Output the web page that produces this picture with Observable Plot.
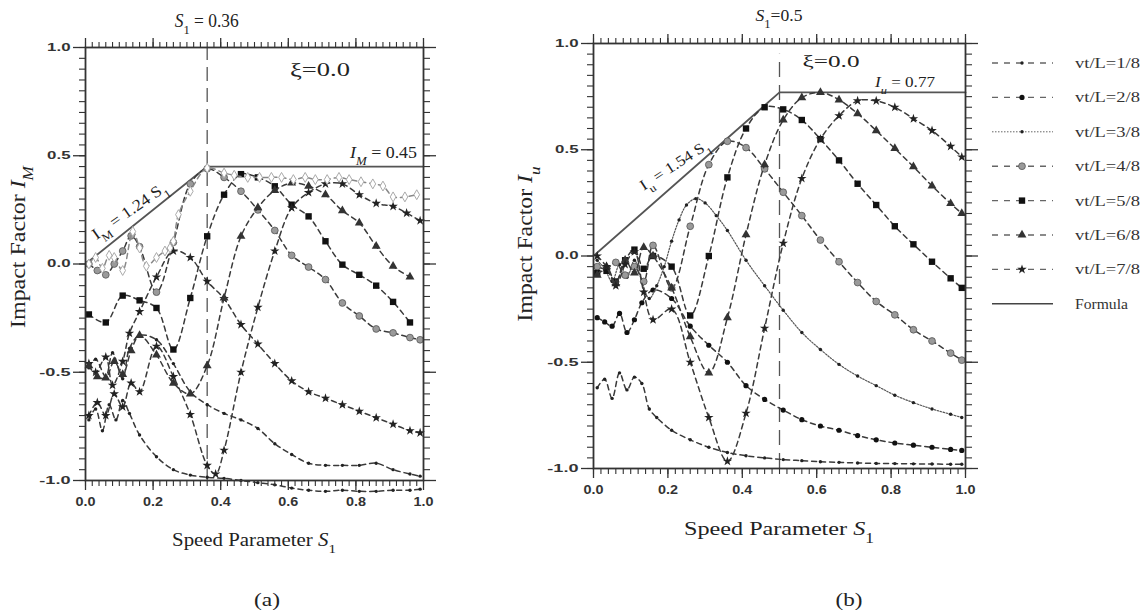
<!DOCTYPE html>
<html><head><meta charset="utf-8">
<script src="https://cdn.jsdelivr.net/npm/d3@7"></script>
<script src="https://cdn.jsdelivr.net/npm/@observablehq/plot@0.6"></script>
<style>
body{margin:0;background:#fff;}
#root{position:relative;width:1146px;height:616px;overflow:hidden;background:#fff;}
</style></head><body><div id="root"></div>
<script>
// ---------- tick values ----------
const xMajor = [0, 0.2, 0.4, 0.6, 0.8, 1.0];
const xMinor = d3.range(0, 51).map(d => d / 50);
const yMajor = [-1, -0.5, 0, 0.5, 1];
const yMinor = d3.range(-20, 21).map(d => d / 20);

// ---------- panel (a): I_M ----------
const aFormulaS = [0, 0.36, 1];
const aFormulaI = [0, 0.45, 0.45];
const aS1 = [0.01,0.03,0.05,0.07,0.09,0.11,0.13,0.16,0.21,0.26,0.31,0.36,0.41,0.46,0.51,0.56,0.61,0.66,0.71,0.76,0.81,0.86,0.91,0.96,0.99];
const aI1 = [-0.72,-0.67,-0.77,-0.65,-0.72,-0.63,-0.69,-0.79,-0.89,-0.95,-0.975,-0.985,-0.99,-1.0,-1.01,-1.02,-1.035,-1.045,-1.05,-1.045,-1.05,-1.05,-1.045,-1.045,-1.04];
const aS2 = [0.01,0.03,0.06,0.08,0.11,0.13,0.16,0.21,0.26,0.31,0.36,0.41,0.46,0.51,0.56,0.61,0.66,0.71,0.76,0.81,0.86,0.91,0.96,0.99];
const aI2 = [-0.48,-0.44,-0.52,-0.41,-0.53,-0.39,-0.33,-0.35,-0.46,-0.59,-0.65,-0.69,-0.72,-0.76,-0.83,-0.88,-0.92,-0.93,-0.93,-0.93,-0.92,-0.95,-0.97,-0.98];
const aS3 = [0.01,0.03,0.06,0.08,0.11,0.13,0.16,0.21,0.26,0.31,0.36,0.41,0.46,0.51,0.56,0.61,0.66,0.71,0.76,0.81,0.86,0.91,0.96,0.99];
const aI3 = [-0.46,-0.5,-0.43,-0.56,-0.45,-0.32,-0.22,-0.06,0.06,0.03,-0.08,-0.16,-0.28,-0.37,-0.46,-0.54,-0.59,-0.62,-0.65,-0.68,-0.71,-0.74,-0.77,-0.78];
const aS4 = [0.01,0.035,0.06,0.085,0.11,0.135,0.16,0.21,0.26,0.31,0.36,0.41,0.46,0.51,0.56,0.61,0.66,0.71,0.76,0.81,0.86,0.91,0.96,0.99];
const aI4 = [0.0,-0.03,-0.05,0.0,0.06,0.13,0.08,-0.13,0.10,0.37,0.44,0.40,0.336,0.25,0.155,0.04,-0.014,-0.072,-0.18,-0.24,-0.30,-0.318,-0.34,-0.35];
const aS5 = [0.01,0.06,0.11,0.16,0.21,0.26,0.31,0.36,0.41,0.46,0.51,0.56,0.61,0.66,0.71,0.76,0.81,0.86,0.91,0.96];
const aI5 = [-0.233,-0.27,-0.146,-0.168,-0.203,-0.395,-0.157,0.128,0.32,0.415,0.40,0.359,0.274,0.22,0.105,-0.003,-0.05,-0.10,-0.175,-0.27];
const aS6 = [0.01,0.035,0.06,0.085,0.11,0.135,0.16,0.21,0.26,0.31,0.36,0.41,0.46,0.51,0.56,0.61,0.66,0.71,0.76,0.81,0.86,0.91,0.96];
const aI6 = [-0.47,-0.52,-0.526,-0.45,-0.51,-0.40,-0.33,-0.42,-0.55,-0.60,-0.47,-0.157,0.128,0.26,0.34,0.374,0.36,0.32,0.246,0.19,0.082,-0.01,-0.06];
const aS7 = [0.01,0.035,0.06,0.085,0.11,0.135,0.16,0.21,0.26,0.31,0.36,0.385,0.41,0.46,0.51,0.56,0.61,0.66,0.71,0.76,0.81,0.86,0.91,0.95,0.99];
const aI7 = [-0.70,-0.64,-0.70,-0.60,-0.66,-0.55,-0.59,-0.38,-0.52,-0.695,-0.93,-0.97,-0.86,-0.50,-0.20,0.06,0.26,0.33,0.37,0.37,0.32,0.28,0.266,0.235,0.20];
const aS8 = [0.01,0.03,0.05,0.07,0.085,0.11,0.14,0.16,0.18,0.21,0.235,0.25,0.26,0.275,0.31,0.36,0.41,0.44,0.48,0.515,0.55,0.58,0.615,0.65,0.68,0.715,0.75,0.78,0.815,0.85,0.88,0.91,0.945,0.98];
const aI8 = [0.0,0.03,-0.02,0.04,0.03,-0.03,0.15,0.074,-0.01,0.03,0.06,0.074,0.105,0.228,0.336,0.443,0.42,0.41,0.40,0.40,0.40,0.40,0.39,0.40,0.39,0.39,0.40,0.39,0.38,0.37,0.36,0.31,0.31,0.32];

// ---------- panel (b): I_u ----------
const bFormulaS = [0, 0.5, 1];
const bFormulaI = [0, 0.77, 0.77];
const bS1 = [0.01,0.03,0.05,0.07,0.09,0.11,0.13,0.15,0.17,0.21,0.26,0.31,0.36,0.41,0.46,0.51,0.56,0.61,0.66,0.71,0.76,0.81,0.86,0.91,0.96,0.99];
const bI1 = [-0.62,-0.58,-0.67,-0.55,-0.63,-0.57,-0.60,-0.72,-0.76,-0.82,-0.865,-0.90,-0.925,-0.94,-0.95,-0.958,-0.963,-0.968,-0.971,-0.974,-0.976,-0.977,-0.978,-0.979,-0.98,-0.98];
const bS2 = [0.01,0.03,0.05,0.07,0.09,0.11,0.13,0.16,0.21,0.26,0.31,0.36,0.41,0.46,0.51,0.56,0.61,0.66,0.71,0.76,0.81,0.86,0.91,0.96,0.99];
const bI2 = [-0.29,-0.31,-0.33,-0.27,-0.36,-0.30,-0.22,-0.16,-0.20,-0.33,-0.42,-0.50,-0.61,-0.675,-0.725,-0.77,-0.80,-0.82,-0.845,-0.865,-0.88,-0.89,-0.90,-0.91,-0.915];
const bS3 = [0.01,0.03,0.05,0.07,0.09,0.11,0.13,0.15,0.17,0.19,0.21,0.23,0.25,0.275,0.30,0.33,0.36,0.41,0.46,0.51,0.56,0.61,0.66,0.71,0.76,0.81,0.86,0.91,0.96,0.99];
const bI3 = [-0.02,-0.06,-0.12,-0.04,-0.10,-0.02,-0.12,-0.20,-0.14,-0.05,0.07,0.17,0.24,0.27,0.25,0.19,0.12,-0.02,-0.14,-0.255,-0.36,-0.44,-0.51,-0.565,-0.61,-0.655,-0.69,-0.72,-0.745,-0.76];
const bS4 = [0.01,0.035,0.06,0.085,0.11,0.135,0.16,0.21,0.26,0.31,0.36,0.41,0.46,0.51,0.56,0.61,0.66,0.71,0.76,0.81,0.86,0.91,0.96,0.99];
const bI4 = [-0.05,-0.06,-0.03,-0.09,-0.05,-0.12,0.05,-0.15,0.14,0.43,0.54,0.51,0.41,0.30,0.19,0.075,-0.027,-0.125,-0.214,-0.277,-0.347,-0.40,-0.457,-0.49];
const bS5 = [0.01,0.035,0.06,0.085,0.11,0.135,0.16,0.21,0.26,0.31,0.36,0.41,0.46,0.51,0.56,0.61,0.66,0.71,0.76,0.81,0.86,0.91,0.96,0.99];
const bI5 = [-0.08,-0.07,-0.12,-0.02,0.03,-0.06,0.0,-0.05,-0.28,0.0,0.37,0.60,0.70,0.69,0.64,0.55,0.45,0.34,0.24,0.14,0.055,-0.027,-0.105,-0.15];
const bS6 = [0.01,0.035,0.06,0.085,0.11,0.135,0.16,0.21,0.26,0.31,0.36,0.41,0.46,0.51,0.56,0.61,0.66,0.71,0.76,0.81,0.86,0.91,0.96,0.99];
const bI6 = [-0.09,-0.05,-0.13,-0.02,-0.08,0.04,0.0,-0.15,-0.38,-0.55,-0.29,0.10,0.43,0.64,0.745,0.77,0.735,0.67,0.59,0.506,0.42,0.33,0.247,0.20];
const bS7 = [0.01,0.035,0.06,0.085,0.11,0.135,0.16,0.21,0.26,0.31,0.36,0.41,0.46,0.51,0.56,0.61,0.66,0.71,0.76,0.81,0.86,0.91,0.96,0.99];
const bI7 = [0.0,-0.05,-0.14,-0.04,0.02,-0.17,-0.30,-0.25,-0.50,-0.76,-0.966,-0.74,-0.34,0.06,0.365,0.55,0.66,0.73,0.73,0.70,0.646,0.59,0.516,0.466];

// ---------- legend ----------
const legendLabels = ["vt/L=1/8","vt/L=2/8","vt/L=3/8","vt/L=4/8","vt/L=5/8","vt/L=6/8","vt/L=7/8","Formula"];
const legendMarkers = ["dot","fdot","dot","gcirc","square","tri","star",null];
const legendLines = ["dash","dash","dot","dash","dash","dash","dash","solid"];

// ---------- styles ----------
const markerStyles = {
  dot:   {symbol: "circle", r: 1.7, fill: "#222", stroke: "none"},
  fdot:  {symbol: "circle", r: 2.6, fill: "#111", stroke: "none"},
  gcirc: {symbol: "circle", r: 3.4, fill: "#9a9a9a", stroke: "#555", strokeWidth: 0.8},
  square:{symbol: "square", r: 3.6, fill: "#111", stroke: "none"},
  tri:   {symbol: "triangle", r: 3.3, fill: "#333", stroke: "none"},
  star:  {symbol: "star", r: 3.0, fill: "#222", stroke: "none"},
  ostar: {symbol: "diamond", r: 3.0, fill: "#fff", stroke: "#aaa", strokeWidth: 1}
};
const zip = (S, I) => S.map((s, k) => ({s, i: I[k]}));

const panelA = {
  left: 0, width: 440, height: 520, mL: 85, mR: 17, mT: 47, mB: 40,
  vline: 0.36, vlineTop: 1, dash: "14,7",
  formula: zip(aFormulaS, aFormulaI),
  series: [
    {d: zip(aS1, aI1), m: "dot"}, {d: zip(aS2, aI2), m: "dot"}, {d: zip(aS3, aI3), m: "star"},
    {d: zip(aS4, aI4), m: "gcirc"}, {d: zip(aS5, aI5), m: "square"}, {d: zip(aS6, aI6), m: "tri"},
    {d: zip(aS7, aI7), m: "star"}, {d: zip(aS8, aI8), m: "ostar", light: true}
  ]
};
const panelB = {
  left: 500, width: 480, height: 510, mL: 93, mR: 15, mT: 43, mB: 42,
  vline: 0.5, vlineTop: 0.95, dash: "15,8",
  formula: zip(bFormulaS, bFormulaI),
  series: [
    {d: zip(bS1, bI1), m: "dot"}, {d: zip(bS2, bI2), m: "fdot"}, {d: zip(bS3, bI3), m: "dot", dotted: true},
    {d: zip(bS4, bI4), m: "gcirc"}, {d: zip(bS5, bI5), m: "square"}, {d: zip(bS6, bI6), m: "tri"},
    {d: zip(bS7, bI7), m: "star"}
  ]
};

function makePanel(P) {
  const marks = [];
  marks.push(Plot.ruleX([P.vline], {y1: -1, y2: P.vlineTop, stroke: "#555", strokeWidth: 1.3, strokeDasharray: P.dash}));
  marks.push(Plot.line(P.formula, {x: "s", y: "i", stroke: "#555", strokeWidth: 1.8}));
  for (const s of P.series) {
    marks.push(Plot.line(s.d, {x: "s", y: "i", curve: "catmull-rom",
      stroke: s.dotted ? "#555" : s.light ? "#888" : "#3a3a3a", strokeWidth: s.dotted ? 1.2 : 1.5,
      strokeDasharray: s.dotted ? "1.5,1.5" : "5,4"}));
    marks.push(Plot.dot(s.d, {x: "s", y: "i", ...markerStyles[s.m]}));
  }
  const fmt = d => d.toFixed(1);
  marks.push(
    Plot.axisX({anchor: "bottom", ticks: xMinor, tickSize: 6, tickFormat: () => "", label: null, strokeWidth: 1.1}),
    Plot.axisX({anchor: "bottom", ticks: xMajor, tickSize: 10, tickPadding: 7, tickFormat: fmt, label: null, strokeWidth: 1.3}),
    Plot.axisX({anchor: "top", ticks: xMinor, tickSize: 6, tickFormat: () => "", label: null, strokeWidth: 1.1}),
    Plot.axisX({anchor: "top", ticks: xMajor, tickSize: 10, tickFormat: () => "", label: null, strokeWidth: 1.3}),
    Plot.axisY({anchor: "left", ticks: yMinor, tickSize: 6, tickFormat: () => "", label: null, strokeWidth: 1.1}),
    Plot.axisY({anchor: "left", ticks: yMajor, tickSize: 12, tickPadding: 3, tickFormat: fmt, label: null, strokeWidth: 1.3}),
    Plot.axisY({anchor: "right", ticks: yMinor, tickSize: 6, tickFormat: () => "", label: null, strokeWidth: 1.1}),
    Plot.axisY({anchor: "right", ticks: yMajor, tickSize: 12, tickFormat: () => "", label: null, strokeWidth: 1.3}),
    Plot.frame({stroke: "#333", strokeWidth: 1.8})
  );
  const svg = Plot.plot({
    width: P.width, height: P.height,
    marginLeft: P.mL, marginRight: P.mR, marginTop: P.mT, marginBottom: P.mB,
    x: {domain: [0, 1]}, y: {domain: [-1, 1]},
    style: {background: "transparent", color: "#333", fontFamily: "'Liberation Sans', Arial, sans-serif",
            fontSize: "12px", fontWeight: "bold", overflow: "visible"},
    marks
  });
  svg.style.position = "absolute";
  svg.style.left = P.left + "px";
  svg.style.top = "0px";
  return svg;
}

const root = document.getElementById("root");
const svgA = makePanel(panelA);
const svgB = makePanel(panelB);
root.appendChild(svgA);
root.appendChild(svgB);

function fitTicks(svg) {
  d3.select(svg).selectAll('[aria-label="y-axis tick label"] text').each(function() {
    const s = this.textContent; if (!s) return;
    this.setAttribute("font-size", "10.5");
    this.setAttribute("textLength", s.length * 7.8);
    this.setAttribute("lengthAdjust", "spacingAndGlyphs");
  });
  d3.select(svg).selectAll('[aria-label="x-axis tick label"] text').each(function() {
    const s = this.textContent; if (!s) return;
    this.setAttribute("font-size", "12.5");
    this.setAttribute("textLength", 20);
    this.setAttribute("lengthAdjust", "spacingAndGlyphs");
  });
}
fitTicks(svgA); fitTicks(svgB);

// ---------- overlay texts ----------
const overlay = d3.create("svg").attr("width", 1146).attr("height", 616)
  .style("position", "absolute").style("left", "0px").style("top", "0px").style("overflow", "visible");
root.appendChild(overlay.node());
const SERIF = "'Liberation Serif', 'Times New Roman', serif";

function addText(o) {
  const t = overlay.append("text").attr("font-family", o.family || SERIF).attr("font-size", o.size)
    .attr("fill", o.fill || "#222").attr("text-anchor", o.anchor || "middle");
  for (const p of o.parts) {
    const ts = t.append("tspan").text(p.t);
    if (p.i) ts.attr("font-style", "italic");
    if (p.sub) ts.attr("baseline-shift", "sub").attr("font-size", o.size * 0.72);
  }
  const len = t.node().getComputedTextLength();
  const k = o.target ? o.target / len : 1;
  t.attr("transform", `translate(${o.x},${o.y}) rotate(${o.rotate || 0}) scale(${k},1)`);
  return t;
}

function px(svg, P, s) { return P.left + svg.scale("x").apply(s); }
function py(svg, i) { return svg.scale("y").apply(i); }

// panel a annotations
addText({x: px(svgA, panelA, 0.36), y: 27, size: 18, target: 64,
  parts: [{t: "S", i: true}, {t: "1", sub: true}, {t: " = 0.36"}]});
addText({x: 320, y: 76, size: 18, target: 60, parts: [{t: "ξ=0.0"}]});
addText({x: 417, y: 158, size: 16, target: 67, anchor: "end",
  parts: [{t: "I", i: true}, {t: "M", i: true, sub: true}, {t: " = 0.45"}]});
{
  const s0 = 0.155, X = px(svgA, panelA, s0), Y = py(svgA, 1.24 * s0);
  addText({x: X - 5, y: Y - 7, size: 16, target: 88, rotate: -35,
    parts: [{t: "I"}, {t: "M", sub: true}, {t: " = 1.24 S"}, {t: "1", sub: true}]});
}
// panel b annotations
addText({x: px(svgB, panelB, 0.5), y: 21, size: 16, target: 47,
  parts: [{t: "S", i: true}, {t: "1", sub: true}, {t: "=0.5"}]});
addText({x: 831, y: 67, size: 17, target: 57, parts: [{t: "ξ=0.0"}]});
addText({x: 935, y: 87, size: 15, target: 60, anchor: "end",
  parts: [{t: "I", i: true}, {t: "u", i: true, sub: true}, {t: " = 0.77"}]});
{
  const s0 = 0.24, X = px(svgB, panelB, s0), Y = py(svgB, 1.54 * s0);
  addText({x: X - 5, y: Y - 8, size: 15, target: 80, rotate: -33,
    parts: [{t: "I"}, {t: "u", sub: true}, {t: " = 1.54 S"}, {t: "1", sub: true}]});
}

// axis titles
addText({x: 25, y: 247, size: 21, target: 162, rotate: -90,
  parts: [{t: "Impact Factor "}, {t: "I", i: true}, {t: "M", i: true, sub: true}]});
addText({x: 532, y: 244, size: 21, target: 155, rotate: -90,
  parts: [{t: "Impact Factor "}, {t: "I", i: true}, {t: "u", i: true, sub: true}]});
addText({x: 254, y: 546, size: 18, target: 164,
  parts: [{t: "Speed Parameter "}, {t: "S", i: true}, {t: "1", sub: true}]});
addText({x: 779, y: 535, size: 19, target: 190,
  parts: [{t: "Speed Parameter "}, {t: "S", i: true}, {t: "1", sub: true}]});
addText({x: 267, y: 606, size: 19, target: 26, parts: [{t: "(a)"}]});
addText({x: 849, y: 606, size: 19, target: 27, parts: [{t: "(b)"}]});

// legend
const symMap = {circle: d3.symbolCircle, square: d3.symbolSquare, triangle: d3.symbolTriangle, star: d3.symbolStar, diamond: d3.symbolDiamond};
legendLabels.forEach((lab, k) => {
  const y = 63 + k * 34.4;
  const ls = legendLines[k];
  overlay.append("line").attr("x1", 992).attr("x2", 1053).attr("y1", y).attr("y2", y)
    .attr("stroke", ls === "solid" ? "#444" : "#666")
    .attr("stroke-width", ls === "solid" ? 1.4 : (ls === "dot" ? 1 : 1.4))
    .attr("stroke-dasharray", ls === "dash" ? "6,6" : ls === "dot" ? "1.5,1.5" : null);
  const m = legendMarkers[k];
  if (m) {
    const st = markerStyles[m];
    const area = Math.PI * st.r * st.r;
    overlay.append("path").attr("d", d3.symbol(symMap[st.symbol], area)())
      .attr("transform", `translate(1022,${y})`)
      .attr("fill", st.fill).attr("stroke", st.stroke === "none" ? null : st.stroke)
      .attr("stroke-width", st.strokeWidth || null);
  }
  addText({x: 1075, y: y + 5, size: 15, target: lab === "Formula" ? 53 : 65, anchor: "start",
    fill: "#333", parts: [{t: lab}]});
});
</script></body></html>
